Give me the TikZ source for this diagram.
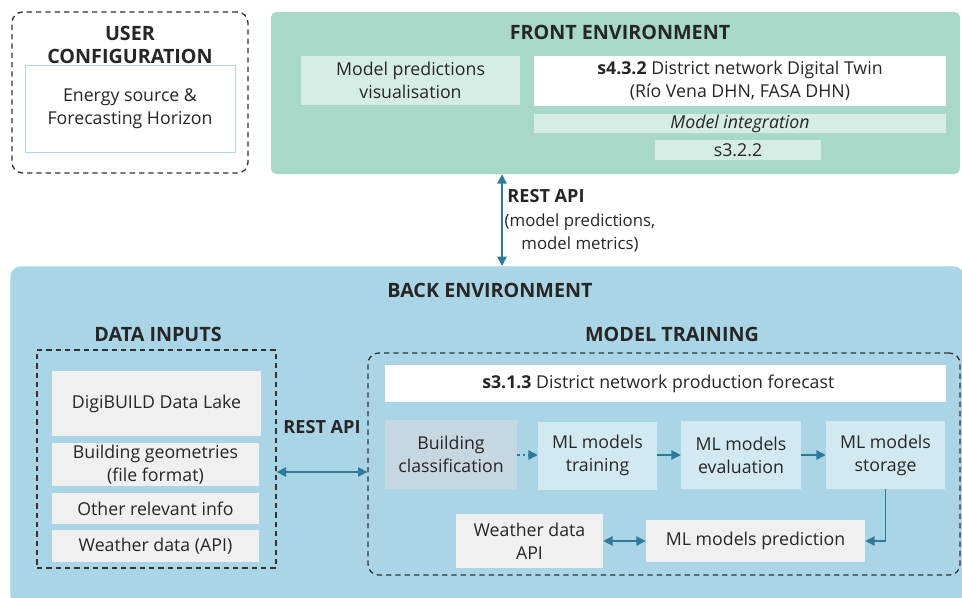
\documentclass[tikz,border=0pt]{standalone}
\usepackage{fontspec}
\setmainfont{Open Sans}
\usetikzlibrary{arrows.meta}
\definecolor{frontg}{RGB}{168,216,202}
\definecolor{frontl}{RGB}{213,237,229}
\definecolor{backb}{RGB}{170,213,230}
\definecolor{lgray}{RGB}{240,240,240}
\definecolor{bcls}{RGB}{198,215,225}
\definecolor{mlbox}{RGB}{210,233,242}
\definecolor{arr}{RGB}{45,123,152}
\definecolor{txt}{RGB}{38,38,38}
\definecolor{ubord}{RGB}{176,214,230}
\tikzset{
  px/.style={x=0.75pt,y=-0.75pt},
  box/.style={rectangle,inner sep=0pt,align=center,text=txt,font=\fontsize{13.3}{17.3}\selectfont},
  ttl/.style={inner sep=0pt,align=center,text=txt,font=\fontsize{14.8}{17.3}\selectfont\bfseries},
  apilbl/.style={inner sep=0pt,align=center,text=txt,font=\fontsize{13.6}{17.3}\selectfont\bfseries},
  dbox/.style={rectangle,draw=black!80,dashed,line width=1pt,dash pattern=on 4pt off 3pt},
  conn/.style={draw=arr,line width=1pt,-{Triangle[length=7pt,width=7pt]}},
  biconn/.style={draw=arr,line width=1pt,{Triangle[length=7pt,width=7pt]}-{Triangle[length=7pt,width=7pt]}},
}
\begin{document}
\begin{tikzpicture}[px]
\useasboundingbox[fill=white] (0,0) rectangle (962,597);
% user configuration
\node[dbox,rounded corners=8pt,minimum width=236*0.75pt,minimum height=161*0.75pt] (user) at (130,92.5) {};
\node[ttl] (usert) at (130,45) {USER\\CONFIGURATION};
\node[box,draw=ubord,line width=0.6pt,fill=white,minimum width=210*0.75pt,minimum height=87*0.75pt] (energy) at (130,108.5) {Energy source \&\\Forecasting Horizon};
% front environment
\node[rectangle,fill=frontg,rounded corners=4pt,minimum width=689*0.75pt,minimum height=162*0.75pt] (front) at (615.5,93) {};
\node[ttl] (frontt) at (620,32) {FRONT ENVIRONMENT};
\node[box,fill=frontl,minimum width=219*0.75pt,minimum height=49*0.75pt] (vis) at (410.5,80.5) {Model predictions\\visualisation};
\node[box,fill=white,minimum width=412*0.75pt,minimum height=50*0.75pt] (twin) at (740,81) {\textbf{s4.3.2} District network Digital Twin\\(Río Vena DHN, FASA DHN)};
\node[box,fill=frontl,minimum width=412*0.75pt,minimum height=19*0.75pt] (integ) at (740,123.5) {\itshape Model integration};
\node[box,fill=frontl,minimum width=166*0.75pt,minimum height=20*0.75pt] (s322) at (738,150) {s3.2.2};
% back environment
\node[rectangle,fill=backb,rounded corners=8pt,minimum width=954*0.75pt,minimum height=340*0.75pt,anchor=north west] (back) at (10,266) {};
\node[ttl] (backt) at (490,290) {BACK ENVIRONMENT};
% REST API vertical
\coordinate (vx) at (502,0);
\draw[biconn] (front.south -| vx) -- (back.north -| vx);
\node[apilbl] (rest1) at (546,196) {REST API};
\node[box,font=\fontsize{12.6}{17.3}\selectfont] (rest1b) at (580,232.5) {(model predictions,\\model metrics)};
% data inputs
\node[ttl] (dit) at (158,334) {DATA INPUTS};
\node[dbox,minimum width=239*0.75pt,minimum height=218*0.75pt] (datain) at (156.5,459) {};
\node[box,fill=lgray,minimum width=209*0.75pt,minimum height=65*0.75pt] (lake) at (156.5,403.5) {DigiBUILD Data Lake};
\node[box,fill=lgray,minimum width=207*0.75pt,minimum height=43*0.75pt] (geom) at (155.5,464.5) {Building geometries\\(file format)};
\node[box,fill=lgray,minimum width=207*0.75pt,minimum height=31*0.75pt] (other) at (155.5,508.5) {Other relevant info};
\node[box,fill=lgray,minimum width=207*0.75pt,minimum height=32*0.75pt] (wdata) at (155.5,546) {Weather data (API)};
% model training
\node[ttl] (mtt) at (672,334) {MODEL TRAINING};
\node[dbox,rounded corners=8pt,minimum width=592*0.75pt,minimum height=222*0.75pt] (train) at (664,464) {};
\node[apilbl] (rest2) at (322,427) {REST API};
\coordinate (hy) at (0,472);
\draw[biconn] (datain.east |- hy) -- (train.west |- hy);
\node[box,fill=white,minimum width=561*0.75pt,minimum height=37*0.75pt] (s313) at (665.5,383.5) {};
\node[box,anchor=west] (s313t) at (482,383.5) {\textbf{s3.1.3} District network production forecast};
\node[box,fill=bcls,minimum width=132*0.75pt,minimum height=69*0.75pt] (bclass) at (451,454.5) {Building\\classification};
\node[box,fill=mlbox,minimum width=119*0.75pt,minimum height=68*0.75pt] (mltrain) at (597.5,455.5) {ML models\\training};
\node[box,fill=mlbox,minimum width=120*0.75pt,minimum height=68*0.75pt] (mleval) at (741,455) {ML models\\evaluation};
\node[box,fill=mlbox,minimum width=119*0.75pt,minimum height=68*0.75pt] (mlstore) at (885.5,455) {ML models\\storage};
\node[box,fill=lgray,minimum width=147*0.75pt,minimum height=54*0.75pt] (wapi) at (529.5,541) {Weather data\\API};
\node[box,fill=lgray,minimum width=219*0.75pt,minimum height=42*0.75pt] (mlpred) at (755.5,541) {ML models prediction};
\coordinate (ay) at (0,455);
\draw[conn,dash pattern=on 2pt off 2pt] (bclass.east |- ay) -- (mltrain.west |- ay);
\draw[conn] (mltrain.east |- ay) -- (mleval.west |- ay);
\draw[conn] (mleval.east |- ay) -- (mlstore.west |- ay);
\draw[conn] (mlstore.south) |- (mlpred.east);
\draw[biconn] (wapi.east) -- (mlpred.west);
\end{tikzpicture}
\end{document}
